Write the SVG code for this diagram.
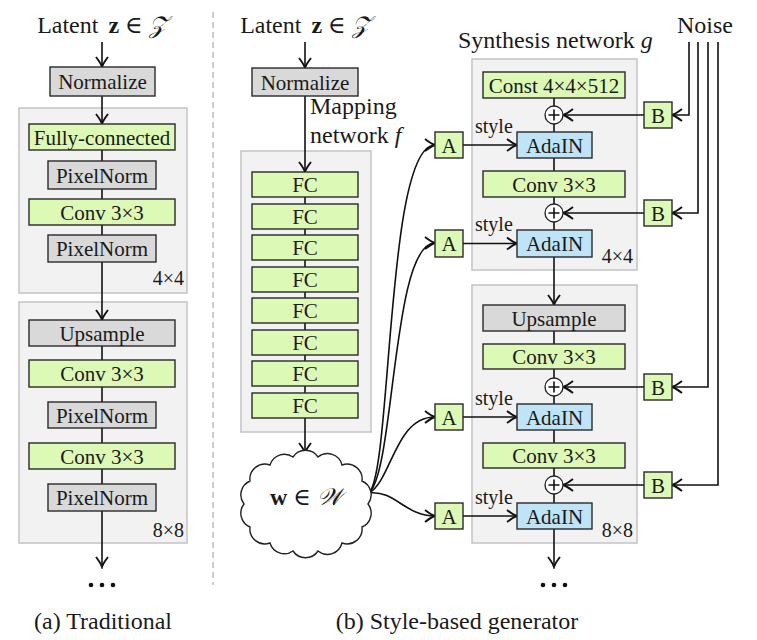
<svg xmlns="http://www.w3.org/2000/svg" width="757" height="640" viewBox="0 0 757 640">
<style>
text{font-family:"Liberation Serif","DejaVu Serif",serif;fill:#1a1a1a}
.hd{font-size:24px}
.lb{font-size:21px;text-anchor:middle}
.sm{font-size:20px}
.rt{font-size:20px;text-anchor:end}
.panel{fill:#f2f2f2;stroke:#c4c4c4;stroke-width:1.5}
.g{fill:#ddf9b6;stroke:#2a2a2a;stroke-width:1.4}
.gr{fill:#d9d9d9;stroke:#2a2a2a;stroke-width:1.4}
.bl{fill:#bfe3f7;stroke:#2a2a2a;stroke-width:1.4}
.ln{fill:none;stroke:#111;stroke-width:1.6}
.ar{fill:none;stroke:#111;stroke-width:1.6;marker-end:url(#arr)}
.plus{fill:#fff;stroke:#222;stroke-width:1.3}
</style>
<defs>
<marker id="arr" viewBox="-12 -8 14 16" refX="0" refY="0" markerWidth="14" markerHeight="16" markerUnits="userSpaceOnUse" orient="auto">
<path d="M-10,-6 Q-3.5,-1 0,0 Q-3.5,1 -10,6" fill="none" stroke="#111" stroke-width="1.9"/>
</marker>
</defs>

<!-- separator -->
<line x1="213" y1="12" x2="213" y2="585" stroke="#aaa" stroke-width="1.2" stroke-dasharray="6,4"/>

<!-- panels -->
<g id="panel-a1"><rect class="panel" x="19" y="108" width="168" height="185"/><text class="rt" x="184" y="285">4×4</text></g>
<g id="panel-a2"><rect class="panel" x="19" y="302" width="168" height="241"/><text class="rt" x="184" y="537">8×8</text></g>
<g id="panel-map"><rect class="panel" x="241" y="151" width="130" height="281"/></g>
<g id="panel-b1"><rect class="panel" x="472" y="59" width="165" height="211"/><text class="rt" x="633" y="263">4×4</text></g>
<g id="panel-b2"><rect class="panel" x="472" y="285" width="165" height="258"/><text class="rt" x="633" y="537">8×8</text></g>

<!-- connectors -->
<g id="connectors">
<path class="ar" d="M102,42 V67"/>
<path class="ar" d="M102,96 V124"/>
<path class="ln" d="M102,149 V161 M102,189 V199 M102,225 V235"/>
<path class="ar" d="M102,262 V320"/>
<path class="ln" d="M102,346 V360 M102,387 V402 M102,428 V443 M102,469 V484"/>
<path class="ar" d="M102,511 V567"/>

<path class="ar" d="M305,42 V68"/>
<path class="ar" d="M305,96 V172"/>
<path class="ln" d="M305,197 V393"/>
<path class="ar" d="M305,418 V453"/>

<path class="ar" d="M369,493 C392,470 386,145 435,145"/>
<path class="ar" d="M369,493 C395,470 392,243 435,243"/>
<path class="ar" d="M369,493 C392,480 395,417 435,417"/>
<path class="ar" d="M369,493 C395,490 405,516 435,516"/>

<path class="ln" d="M554,98 V132 M554,158 V171 M554,197 V230"/>
<path class="ar" d="M554,257 V305"/>
<path class="ln" d="M554,331 V344 M554,369 V404 M554,430 V443 M554,468 V503"/>
<path class="ar" d="M554,529 V567"/>

<path class="ar" d="M463,145 H517"/>
<path class="ar" d="M463,243.5 H517"/>
<path class="ar" d="M463,417 H517"/>
<path class="ar" d="M463,516 H517"/>

<path class="ar" d="M644,115 H563"/>
<path class="ar" d="M644,213 H563"/>
<path class="ar" d="M644,387 H563"/>
<path class="ar" d="M644,485 H563"/>

<path class="ar" d="M689,42 V115 H672"/>
<path class="ar" d="M698,42 V213 H672"/>
<path class="ar" d="M708,42 V387 H672"/>
<path class="ar" d="M718,42 V485 H672"/>
</g>

<!-- headers -->
<text class="hd" x="102" y="33" text-anchor="middle">Latent <tspan dx="4" font-weight="bold">z</tspan> ∈ <tspan font-style="italic">𝒵</tspan></text>
<text class="hd" x="305" y="33" text-anchor="middle">Latent <tspan dx="4" font-weight="bold">z</tspan> ∈ <tspan font-style="italic">𝒵</tspan></text>
<text class="hd" x="310" y="114">Mapping</text>
<text class="hd" x="310" y="143">network <tspan font-style="italic">f</tspan></text>
<text class="hd" x="458" y="48">Synthesis network <tspan font-style="italic">g</tspan></text>
<text class="hd" x="677" y="33">Noise</text>

<!-- left column nodes -->
<g id="a-normalize"><rect class="gr" x="50" y="67" width="105" height="29"/><text class="lb" x="102.5" y="89">Normalize</text></g>
<g id="a-fc"><rect class="g" x="29" y="124" width="146" height="26"/><text class="lb" x="102" y="144.5">Fully-connected</text></g>
<g id="a-pn1"><rect class="gr" x="48" y="161" width="108" height="28"/><text class="lb" x="102" y="182.5">PixelNorm</text></g>
<g id="a-conv1"><rect class="g" x="29" y="199" width="146" height="26"/><text class="lb" x="102" y="219.5">Conv 3×3</text></g>
<g id="a-pn2"><rect class="gr" x="48" y="235" width="108" height="27"/><text class="lb" x="102" y="256">PixelNorm</text></g>
<g id="a-up"><rect class="gr" x="29" y="320" width="146" height="26"/><text class="lb" x="102" y="340.5">Upsample</text></g>
<g id="a-conv2"><rect class="g" x="29" y="360" width="146" height="27"/><text class="lb" x="102" y="381">Conv 3×3</text></g>
<g id="a-pn3"><rect class="gr" x="48" y="402" width="108" height="26"/><text class="lb" x="102" y="422.5">PixelNorm</text></g>
<g id="a-conv3"><rect class="g" x="29" y="443" width="146" height="26"/><text class="lb" x="102" y="463.5">Conv 3×3</text></g>
<g id="a-pn4"><rect class="gr" x="48" y="484" width="108" height="27"/><text class="lb" x="102" y="505">PixelNorm</text></g>
<g id="a-dots" fill="#111"><circle cx="91" cy="585" r="2.3"/><circle cx="102" cy="585" r="2.3"/><circle cx="113" cy="585" r="2.3"/></g>

<!-- mapping network -->
<g id="b-normalize"><rect class="gr" x="252" y="68" width="106" height="28"/><text class="lb" x="305" y="89.5">Normalize</text></g>
<g id="fc1"><rect class="g" x="252" y="172" width="106" height="25"/><text class="lb" x="305" y="191.5">FC</text></g>
<g id="fc2"><rect class="g" x="252" y="204" width="106" height="25"/><text class="lb" x="305" y="223.5">FC</text></g>
<g id="fc3"><rect class="g" x="252" y="235" width="106" height="25"/><text class="lb" x="305" y="254.5">FC</text></g>
<g id="fc4"><rect class="g" x="252" y="267" width="106" height="25"/><text class="lb" x="305" y="286.5">FC</text></g>
<g id="fc5"><rect class="g" x="252" y="298" width="106" height="25"/><text class="lb" x="305" y="317.5">FC</text></g>
<g id="fc6"><rect class="g" x="252" y="330" width="106" height="25"/><text class="lb" x="305" y="349.5">FC</text></g>
<g id="fc7"><rect class="g" x="252" y="361" width="106" height="25"/><text class="lb" x="305" y="380.5">FC</text></g>
<g id="fc8"><rect class="g" x="252" y="393" width="106" height="25"/><text class="lb" x="305" y="412.5">FC</text></g>
<g id="w-cloud">
<path d="M368,504 A15,15 0 0 1 362,527 A15,15 0 0 1 342,543 A15,15 0 0 1 318,551 A15,15 0 0 1 293,551 A15,15 0 0 1 270,543 A15,15 0 0 1 250,527 A15,15 0 0 1 244,504 A15,15 0 0 1 250,481 A15,15 0 0 1 270,465 A15,15 0 0 1 293,457 A15,15 0 0 1 318,457 A15,15 0 0 1 342,465 A15,15 0 0 1 362,481 A15,15 0 0 1 368,504 Z" fill="#fff" stroke="#222" stroke-width="1.4"/>
<text class="hd" x="306" y="505" text-anchor="middle"><tspan font-weight="bold">w</tspan> ∈ <tspan font-style="italic">𝒲</tspan></text>
</g>

<!-- synthesis network -->
<g id="const"><rect class="g" x="483" y="72" width="142" height="26"/><text class="lb" x="554" y="92.5">Const 4×4×512</text></g>
<g id="add1"><circle class="plus" cx="554" cy="115" r="9"/><path class="ln" d="M548.5,115 H559.5 M554,109.5 V120.5" stroke-width="1.2"/></g>
<g id="b1"><rect class="g" x="644" y="102" width="28" height="26"/><text class="lb" x="658" y="122.5">B</text></g>
<g id="a1"><rect class="g" x="435" y="132" width="28" height="26"/><text class="lb" x="449" y="152.5">A</text></g>
<text class="sm" x="475" y="133">style</text>
<g id="adain1"><rect class="bl" x="517" y="132" width="75" height="26"/><text class="lb" x="554.5" y="152.5">AdaIN</text></g>
<g id="conv-b1"><rect class="g" x="483" y="171" width="142" height="26"/><text class="lb" x="554" y="191.5">Conv 3×3</text></g>
<g id="add2"><circle class="plus" cx="554" cy="213" r="9"/><path class="ln" d="M548.5,213 H559.5 M554,207.5 V218.5" stroke-width="1.2"/></g>
<g id="b2"><rect class="g" x="644" y="200" width="28" height="26"/><text class="lb" x="658" y="220.5">B</text></g>
<g id="a2"><rect class="g" x="435" y="230" width="28" height="27"/><text class="lb" x="449" y="251">A</text></g>
<text class="sm" x="475" y="231">style</text>
<g id="adain2"><rect class="bl" x="517" y="230" width="75" height="27"/><text class="lb" x="554.5" y="251">AdaIN</text></g>

<g id="upsample-b"><rect class="gr" x="483" y="305" width="142" height="26"/><text class="lb" x="554" y="325.5">Upsample</text></g>
<g id="conv-b2"><rect class="g" x="483" y="344" width="142" height="25"/><text class="lb" x="554" y="364">Conv 3×3</text></g>
<g id="add3"><circle class="plus" cx="554" cy="387" r="9"/><path class="ln" d="M548.5,387 H559.5 M554,381.5 V392.5" stroke-width="1.2"/></g>
<g id="b3"><rect class="g" x="644" y="374" width="28" height="26"/><text class="lb" x="658" y="394.5">B</text></g>
<g id="a3"><rect class="g" x="435" y="404" width="28" height="26"/><text class="lb" x="449" y="424.5">A</text></g>
<text class="sm" x="475" y="405">style</text>
<g id="adain3"><rect class="bl" x="517" y="404" width="75" height="26"/><text class="lb" x="554.5" y="424.5">AdaIN</text></g>
<g id="conv-b3"><rect class="g" x="483" y="443" width="142" height="25"/><text class="lb" x="554" y="463">Conv 3×3</text></g>
<g id="add4"><circle class="plus" cx="554" cy="485" r="9"/><path class="ln" d="M548.5,485 H559.5 M554,479.5 V490.5" stroke-width="1.2"/></g>
<g id="b4"><rect class="g" x="644" y="472" width="28" height="26"/><text class="lb" x="658" y="492.5">B</text></g>
<g id="a4"><rect class="g" x="435" y="503" width="28" height="26"/><text class="lb" x="449" y="523.5">A</text></g>
<text class="sm" x="475" y="504">style</text>
<g id="adain4"><rect class="bl" x="517" y="503" width="75" height="26"/><text class="lb" x="554.5" y="523.5">AdaIN</text></g>
<g id="b-dots" fill="#111"><circle cx="543" cy="585" r="2.3"/><circle cx="554" cy="585" r="2.3"/><circle cx="565" cy="585" r="2.3"/></g>

<!-- captions -->
<text class="hd" x="103" y="629" text-anchor="middle">(a) Traditional</text>
<text class="hd" x="457" y="629" text-anchor="middle">(b) Style-based generator</text>
</svg>
